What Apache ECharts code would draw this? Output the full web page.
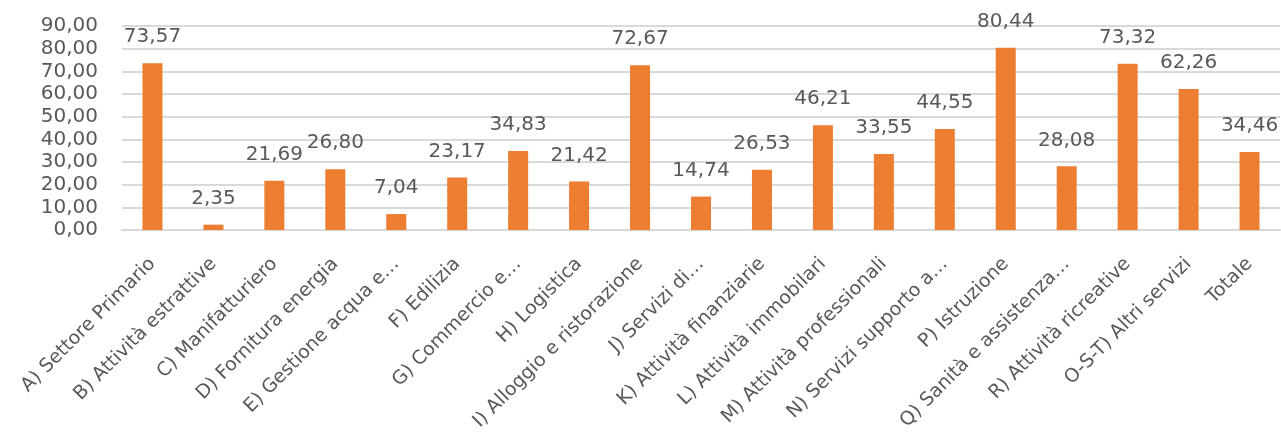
<!DOCTYPE html>
<html>
<head>
<meta charset="utf-8">
<script src="https://cdn.jsdelivr.net/npm/echarts@6/dist/echarts.min.js"></script>
<style>
  html, body { margin: 0; padding: 0; background: #ffffff; }
  #chart { width: 1281px; height: 436px; }
</style>
</head>
<body>
<div id="chart"></div>
<script>
// Sector categories (labels as shown on the x axis)
const categories = [
  'A) Settore Primario',
  'B) Attività estrattive',
  'C) Manifatturiero',
  'D) Fornitura energia',
  'E) Gestione acqua e…',
  'F) Edilizia',
  'G) Commercio e…',
  'H) Logistica',
  'I) Alloggio e ristorazione',
  'J) Servizi di…',
  'K) Attività finanziarie',
  'L) Attività immobilari',
  'M) Attività professionali',
  'N) Servizi supporto a…',
  'P) Istruzione',
  'Q) Sanità e assistenza…',
  'R) Attività ricreative',
  'O-S-T) Altri servizi',
  'Totale'
];

// Values per sector
const values = [
  73.57, 2.35, 21.69, 26.80, 7.04, 23.17, 34.83, 21.42, 72.67, 14.74,
  26.53, 46.21, 33.55, 44.55, 80.44, 28.08, 73.32, 62.26, 34.46
];

// Y axis range
const yMin = 0;
const yMax = 90;
const yStep = 10;

const fontFamily = '"DejaVu Sans", sans-serif';
const textColor = '#595959';
const itFmt = v => Number(v).toFixed(2).replace('.', ',');

const chart = echarts.init(document.getElementById('chart'));
chart.setOption({
  animation: false,
  backgroundColor: '#ffffff',
  grid: { left: 122, right: 1, top: 26, bottom: 206, containLabel: false },
  xAxis: {
    type: 'category',
    data: categories,
    axisLine: { show: true, lineStyle: { color: '#d9d9d9', width: 2 } },
    axisTick: { show: false },
    axisLabel: {
      interval: 0,
      rotate: 45,
      margin: 31,
      color: textColor,
      fontFamily: fontFamily,
      fontSize: 19
    }
  },
  yAxis: {
    type: 'value',
    min: yMin,
    max: yMax,
    interval: yStep,
    axisLine: { show: false },
    axisTick: { show: false },
    splitLine: { show: true, lineStyle: { color: '#d9d9d9', width: 2 } },
    axisLabel: {
      margin: 24,
      color: textColor,
      fontFamily: fontFamily,
      fontSize: 20,
      formatter: itFmt
    }
  },
  series: [{
    type: 'bar',
    data: values,
    barWidth: 20,
    itemStyle: { color: '#ED7D31' },
    label: {
      show: true,
      position: 'top',
      distance: 16,
      color: textColor,
      fontFamily: fontFamily,
      fontSize: 20,
      formatter: p => itFmt(p.value)
    }
  }]
});
</script>
</body>
</html>
